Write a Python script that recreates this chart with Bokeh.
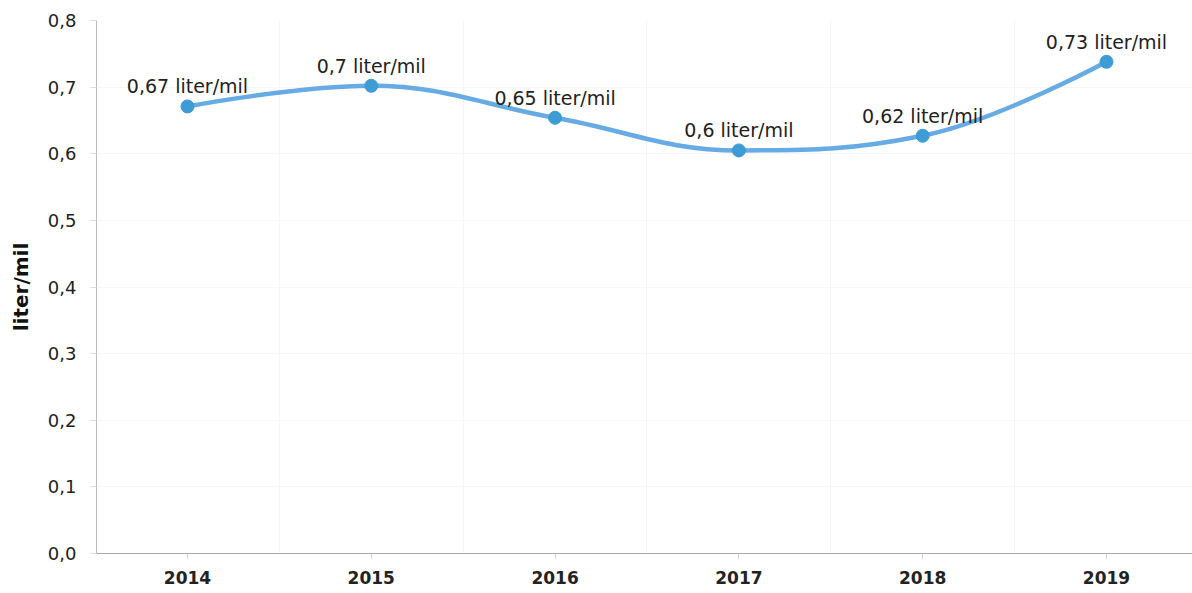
from bokeh.plotting import figure
from bokeh.models import FixedTicker, Range1d, CustomJSTickFormatter, ColumnDataSource, LabelSet
from bokeh.core.properties import value
from bokeh.embed import file_html
from bokeh.resources import INLINE

years = ["2014", "2015", "2016", "2017", "2018", "2019"]
values = [0.671, 0.702, 0.654, 0.605, 0.627, 0.738]
labels = ["0,67 liter/mil", "0,7 liter/mil", "0,65 liter/mil", "0,6 liter/mil", "0,62 liter/mil", "0,73 liter/mil"]
y_ticks = [0.0, 0.1, 0.2, 0.3, 0.4, 0.5, 0.6, 0.7, 0.8]

FONT = "DejaVu Sans"
xs = list(range(len(years)))

p = figure(width=1192, height=593, output_backend="svg", toolbar_location=None,
           x_range=Range1d(-0.495, 5.468), y_range=Range1d(0, 0.8),
           min_border_left=96, min_border_right=0, min_border_top=20, min_border_bottom=40)
p.outline_line_color = None
p.background_fill_color = "white"

# Spline control points (Highcharts-like smoothing)
sm = 1.5
n = len(xs)
lc = [None] * n
rc = [None] * n
for i in range(1, n - 1):
    x, y = xs[i], values[i]
    lx, ly = xs[i - 1], values[i - 1]
    nx, ny = xs[i + 1], values[i + 1]
    lcx = (sm * x + lx) / (sm + 1); lcy = (sm * y + ly) / (sm + 1)
    rcx = (sm * x + nx) / (sm + 1); rcy = (sm * y + ny) / (sm + 1)
    corr = ((rcy - lcy) * (rcx - x)) / (rcx - lcx) + y - rcy
    lcy += corr; rcy += corr
    if lcy > ly and lcy > y:
        lcy = max(ly, y); rcy = 2 * y - lcy
    elif lcy < ly and lcy < y:
        lcy = min(ly, y); rcy = 2 * y - lcy
    if rcy > ny and rcy > y:
        rcy = max(ny, y); lcy = 2 * y - rcy
    elif rcy < ny and rcy < y:
        rcy = min(ny, y); lcy = 2 * y - rcy
    lc[i] = (lcx, lcy); rc[i] = (rcx, rcy)

x0, y0, x1, y1, cx0, cy0, cx1, cy1 = [], [], [], [], [], [], [], []
for i in range(n - 1):
    x0.append(xs[i]); y0.append(values[i])
    x1.append(xs[i + 1]); y1.append(values[i + 1])
    c0 = rc[i] if rc[i] else (xs[i], values[i])
    c1 = lc[i + 1] if lc[i + 1] else (xs[i + 1], values[i + 1])
    cx0.append(c0[0]); cy0.append(c0[1]); cx1.append(c1[0]); cy1.append(c1[1])

p.bezier(x0=x0, y0=y0, x1=x1, y1=y1, cx0=cx0, cy0=cy0, cx1=cx1, cy1=cy1,
         line_color="#66abe4", line_width=4.5)

src = ColumnDataSource(data=dict(x=xs, y=values, lab=labels))
p.scatter("x", "y", source=src, size=13, fill_color="#3d9bd6", line_color="#3d9bd6")

ls = LabelSet(x="x", y="y", text="lab", source=src, text_align="center", text_baseline="alphabetic",
              y_offset=13, text_font=value(FONT), text_font_size="19px", text_color="#222222")
p.add_layout(ls)

# axes
p.xaxis.ticker = FixedTicker(ticks=xs)
p.xaxis.major_label_overrides = {i: y for i, y in enumerate(years)}
p.xaxis.major_label_text_font = FONT
p.xaxis.major_label_text_font_size = "17px"
p.xaxis.major_label_text_font_style = "bold"
p.xaxis.major_label_text_color = "#222222"
p.xaxis.major_label_standoff = 12
p.xaxis.axis_line_color = "#aaaaaa"
p.xaxis.major_tick_line_color = "#cccccc"
p.xaxis.major_tick_out = 5
p.xaxis.major_tick_in = 0
p.xaxis.minor_tick_line_color = None

p.yaxis.ticker = FixedTicker(ticks=y_ticks)
p.yaxis.formatter = CustomJSTickFormatter(code="return tick.toFixed(1).replace('.', ',');")
p.yaxis.major_label_text_font = FONT
p.yaxis.major_label_text_font_size = "18px"
p.yaxis.major_label_text_color = "#222222"
p.yaxis.major_label_standoff = 14
p.yaxis.axis_line_color = "#bbbbbb"
p.yaxis.major_tick_line_color = "#dddddd"
p.yaxis.major_tick_out = 6
p.yaxis.major_tick_in = 0
p.yaxis.minor_tick_line_color = None
p.yaxis.axis_label = "liter/mil"
p.yaxis.axis_label_text_font = FONT
p.yaxis.axis_label_text_font_size = "20px"
p.yaxis.axis_label_text_font_style = "bold"
p.yaxis.axis_label_text_color = "#111111"
p.yaxis.axis_label_standoff = 12

p.xgrid.ticker = FixedTicker(ticks=[0.5, 1.5, 2.5, 3.5, 4.5])
p.xgrid.grid_line_color = "#f5f5f5"
p.ygrid.ticker = FixedTicker(ticks=y_ticks)
p.ygrid.grid_line_color = "#f7f7f7"

open("out.html", "w").write(file_html(p, INLINE))
